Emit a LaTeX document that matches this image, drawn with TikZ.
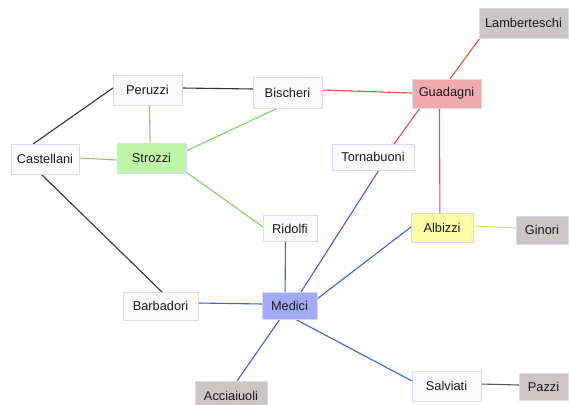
\documentclass[tikz,border=0pt]{standalone}
\usepackage{fontspec}
\setmainfont{Liberation Sans}
\usetikzlibrary{backgrounds}
\definecolor{bordc}{HTML}{D6DAF5}
\definecolor{whitef}{HTML}{FAFAFC}
\definecolor{grayf}{HTML}{CBC5C6}
\definecolor{redf}{HTML}{F0AAAA}
\definecolor{greenf}{HTML}{BEF5A8}
\definecolor{bluef}{HTML}{A3AAF7}
\definecolor{yellowf}{HTML}{FFF9AA}
\definecolor{rede}{HTML}{E05040}
\definecolor{greene}{HTML}{88D060}
\definecolor{bluee}{HTML}{4060E0}
\definecolor{yellowe}{HTML}{EEE060}
\definecolor{blacke}{HTML}{333333}
\definecolor{graye}{HTML}{555555}
\definecolor{txt}{HTML}{1A1A1A}
\tikzset{
  fam/.style={draw=bordc, line width=0.9pt, inner sep=0pt, text=txt,
    font=\fontsize{12.8}{14}\selectfont, fill=whitef},
  grayn/.style={fam, fill=grayf},
  redn/.style={fam, fill=redf},
  greenn/.style={fam, fill=greenf},
  bluen/.style={fam, fill=bluef},
  yellown/.style={fam, fill=yellowf},
  edge/.style={line width=1.1pt}
}
\begin{document}
\begin{tikzpicture}[x=1pt,y=-1pt]
\useasboundingbox (0,0) rectangle (569,404);
\clip (0,0) rectangle (569,404);
\node[grayn, minimum width=89pt, minimum height=30pt] (Lam) at (523.5,23) {Lamberteschi};
\node[redn, minimum width=69pt, minimum height=29pt] (Gua) at (446.5,93.5) {Guadagni};
\node[fam, minimum width=69pt, minimum height=30pt] (Per) at (147.5,90) {Peruzzi};
\node[fam, minimum width=69pt, minimum height=31pt] (Bis) at (287.5,92.5) {Bischeri};
\node[fam, minimum width=68pt, minimum height=30pt] (Cas) at (45,159) {Castellani};
\node[greenn, minimum width=69pt, minimum height=30pt] (Str) at (151.5,158) {Strozzi};
\node[fam, minimum width=82pt, minimum height=26pt] (Tor) at (373,157) {Tornabuoni};
\node[fam, minimum width=54pt, minimum height=26pt] (Rid) at (290,228.5) {Ridolfi};
\node[yellown, minimum width=62pt, minimum height=29pt] (Alb) at (442,227.5) {Albizzi};
\node[grayn, minimum width=52pt, minimum height=28pt] (Gin) at (542,230) {Ginori};
\node[fam, minimum width=75pt, minimum height=28pt] (Bar) at (160.5,306) {Barbadori};
\node[bluen, minimum width=55pt, minimum height=27pt] (Med) at (289.5,305.5) {Medici};
\node[grayn, minimum width=72pt, minimum height=30pt] (Acc) at (231,396) {Acciaiuoli};
\node[fam, minimum width=69pt, minimum height=30pt] (Sal) at (446.5,386) {Salviati};
\node[grayn, minimum width=49pt, minimum height=27pt] (Paz) at (543.5,386.5) {Pazzi};
\begin{scope}[on background layer]
\fill[white] (0,0) rectangle (569,404);
\draw[edge, blacke] ([shift={(34.5,-2)}]Per.center) -- ([shift={(-34.5,-3.5)}]Bis.center);
\draw[edge, blacke] ([shift={(-34.5,-2)}]Per.center) -- ([shift={(-12,-15)}]Cas.center);
\draw[edge, blacke] ([shift={(-4,15)}]Cas.center) -- ([shift={(1.5,-14)}]Bar.center);
\draw[edge, greene] ([shift={(2,15)}]Per.center) -- ([shift={(-1.4,-15)}]Str.center);
\draw[edge, greene] ([shift={(34,-1)}]Cas.center) -- ([shift={(-34.5,2)}]Str.center);
\draw[edge, greene] ([shift={(34.5,-7)}]Str.center) -- ([shift={(-9.5,15.5)}]Bis.center);
\draw[edge, greene] ([shift={(34.5,14)}]Str.center) -- ([shift={(-27,-1.5)}]Rid.center);
\draw[edge, rede] ([shift={(34.5,-2.5)}]Bis.center) -- ([shift={(-34.5,-0.5)}]Gua.center);
\draw[edge, rede] ([shift={(3.5,-14.5)}]Gua.center) -- ([shift={(-43.5,15)}]Lam.center);
\draw[edge, rede] ([shift={(-26.5,14.5)}]Gua.center) -- ([shift={(21,-13)}]Tor.center);
\draw[edge, rede] ([shift={(-7,14.5)}]Gua.center) -- ([shift={(-2.1,-14.5)}]Alb.center);
\draw[edge, yellowe] ([shift={(31,-1.5)}]Alb.center) -- ([shift={(-26,-2)}]Gin.center);
\draw[edge, bluee] ([shift={(6,13)}]Tor.center) -- ([shift={(11.5,-13.5)}]Med.center);
\draw[edge, bluee] ([shift={(-31,-0.5)}]Alb.center) -- ([shift={(27.5,-6.5)}]Med.center);
\draw[edge, bluee] ([shift={(-4.5,12.5)}]Rid.center) -- ([shift={(-4.4,-13.5)}]Med.center);
\draw[edge, bluee] ([shift={(37.5,-3)}]Bar.center) -- ([shift={(-27.5,-1.5)}]Med.center);
\draw[edge, bluee] ([shift={(-9.5,13.5)}]Med.center) -- ([shift={(6,-15)}]Acc.center);
\draw[edge, bluee] ([shift={(5.5,13.5)}]Med.center) -- ([shift={(-34.5,-5)}]Sal.center);
\draw[edge, graye] ([shift={(34.5,-2)}]Sal.center) -- ([shift={(-24.5,-1.5)}]Paz.center);
\end{scope}
\end{tikzpicture}
\end{document}
